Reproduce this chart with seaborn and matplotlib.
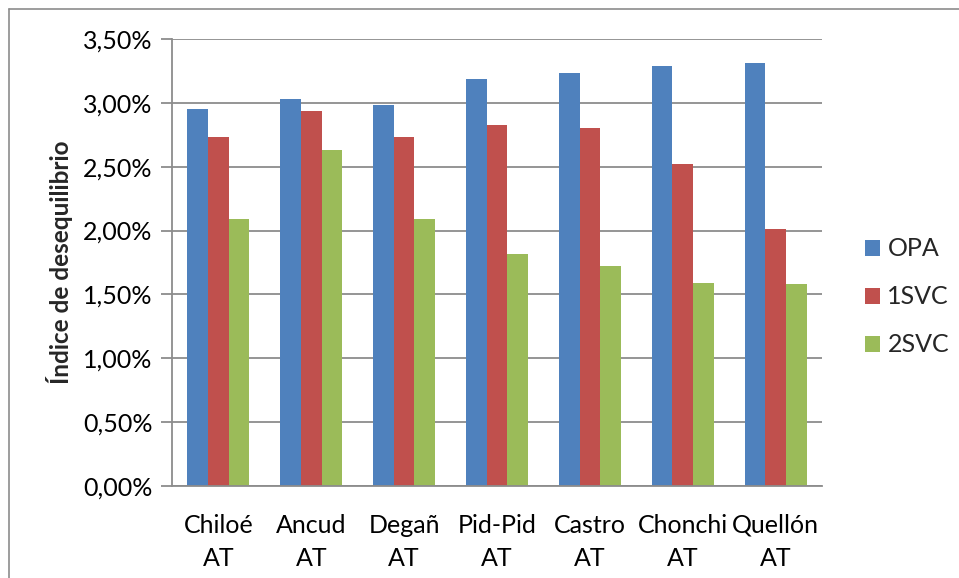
import numpy as np
import pandas as pd
import matplotlib
matplotlib.use("Agg")
import matplotlib.pyplot as plt
import seaborn as sns
from matplotlib.ticker import FuncFormatter, MultipleLocator

# -------------------------------
# Data
# -------------------------------
CATEGORIES = ["Chiloé\nAT", "Ancud\nAT", "Degañ\nAT", "Pid-Pid\nAT",
              "Castro\nAT", "Chonchi\nAT", "Quellón\nAT"]
SERIES = ["OPA", "1SVC", "2SVC"]

OPA = [2.95, 3.03, 2.985, 3.19, 3.23, 3.29, 3.31]
SVC1 = [2.73, 2.94, 2.73, 2.83, 2.80, 2.52, 2.01]
SVC2 = [2.09, 2.63, 2.09, 1.82, 1.72, 1.59, 1.58]

COLORS = ["#4F81BD", "#C0504D", "#9BBB59"]
GRID = "#8C8C8C"

df = pd.DataFrame({
    "Zona": CATEGORIES * 3,
    "Serie": [s for s in SERIES for _ in CATEGORIES],
    "Valor": OPA + SVC1 + SVC2,
})

# -------------------------------
# Figure
# -------------------------------
sns.set_theme(style="white")
plt.rcParams["font.family"] = ["Lato", "DejaVu Sans"]

fig = plt.figure(figsize=(9.59, 5.78), dpi=100)
ax = fig.add_axes([172 / 959, 1 - 486 / 578, 650 / 959, 447 / 578])

sns.barplot(
    data=df, x="Zona", y="Valor", hue="Serie",
    palette=COLORS, width=0.667, saturation=1,
    linewidth=0, ax=ax, legend=True,
)

ax.set_ylim(0, 3.5)
ax.set_xlim(-0.5, len(CATEGORIES) - 0.5)
ax.yaxis.set_major_locator(MultipleLocator(0.5))
ax.yaxis.set_major_formatter(
    FuncFormatter(lambda v, p: f"{v:.2f}".replace(".", ",") + "%"))
ax.yaxis.grid(True, color=GRID, linewidth=1.3)
ax.set_axisbelow(True)

for side in ["top", "right"]:
    ax.spines[side].set_visible(False)
for side in ["left", "bottom"]:
    ax.spines[side].set_color(GRID)
    ax.spines[side].set_linewidth(1.3)

ax.tick_params(axis="y", which="major", left=True, length=8, width=1.3,
               color=GRID, labelsize=18, pad=6, labelcolor="black")
ax.tick_params(axis="x", bottom=False, labelsize=18, pad=14,
               labelcolor="black")
for lbl in ax.get_xticklabels():
    lbl.set_linespacing(1.55)

ax.set_xlabel("")
ax.set_ylabel("Índice de desequilibrio", fontsize=17.5, fontweight="bold")
ax.yaxis.set_label_coords(-0.152, 0.5)

leg = ax.legend(
    loc="center left", bbox_to_anchor=(1.066, 0.423), frameon=False,
    fontsize=18, handlelength=0.6, handleheight=0.6, labelspacing=1.0,
    handletextpad=0.3, borderpad=0, borderaxespad=0,
)

# chart outer border (left and top only visible)
fig.add_artist(plt.Line2D([8.5 / 959, 8.5 / 959], [0, 1 - 9 / 578],
                          transform=fig.transFigure, color="#8C8C8C", lw=1.2))
fig.add_artist(plt.Line2D([8.5 / 959, 1], [1 - 9 / 578, 1 - 9 / 578],
                          transform=fig.transFigure, color="#8C8C8C", lw=1.2))

fig.savefig("out.png", dpi=100)
